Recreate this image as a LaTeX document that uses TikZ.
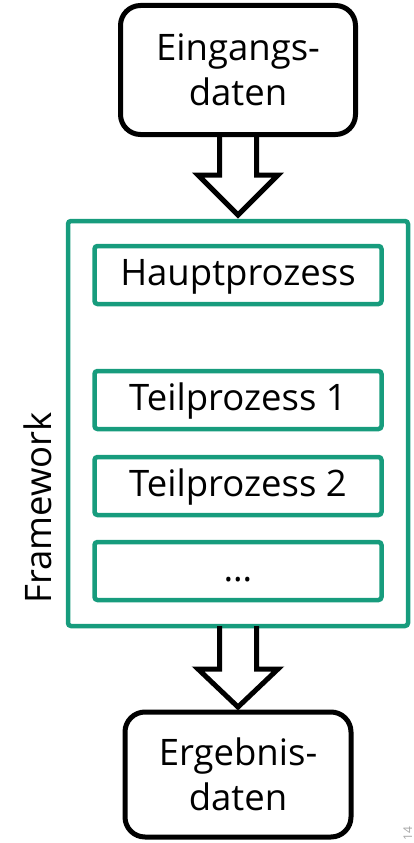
\documentclass[tikz,border=0pt]{standalone}
\usepackage{fontspec}
\setmainfont{Open Sans}
\usepackage{xcolor}
\usetikzlibrary{positioning,calc}
\definecolor{fhgreen}{RGB}{23,156,125}

\begin{document}
\begin{tikzpicture}[x=1pt, y=-1pt,
		databox/.style={draw, line width=5pt, rounded corners=20pt, align=center, inner sep=0pt, outer sep=0pt, font=\fontsize{36.5}{45}\selectfont},
		stepbox/.style={draw=fhgreen, line width=4.5pt, rounded corners=3pt, minimum width=287pt, minimum height=58pt, inner sep=0pt, outer sep=0pt, text height=26pt, text depth=6pt, font=\fontsize{36.5}{45}\selectfont},
		hollowarrow/.style={draw, line width=5pt, line join=miter}]
			\useasboundingbox (0,0) rectangle (414,843);
			\node [databox, minimum width=235pt, minimum height=129pt] (eingang) at (238,70) {Eingangs-\\daten};
			\node [draw=fhgreen, line width=4.5pt, rounded corners=3pt, minimum width=340pt, minimum height=405pt, outer sep=0pt] (framework) at (238,423.5) {};
			\node [rotate=90, font=\fontsize{36.5}{45}\selectfont] (fwlabel) at (38,508) {Framework};
			\node [stepbox] (haupt) at (238,275) {Hauptprozess};
			\node [stepbox] (teil1) at (238,400) {Teilprozess 1};
			\node [stepbox] (teil2) at (238,486) {Teilprozess 2};
			\node [stepbox] (weitere) at (238,571) {…};
			\node [databox, minimum width=226pt, minimum height=125pt] (ergebnis) at (238,774.5) {Ergebnis-\\daten};
			\node [rotate=90, anchor=base west, inner sep=0pt, text=gray!70, font=\fontsize{12}{12}\selectfont] (seite) at (412,841) {14};
			% input -> framework
			\draw [hollowarrow] ([xshift=-18.5pt]eingang.south) -- ([xshift=-18.5pt,yshift=46pt]framework.north) -- ([xshift=-40pt,yshift=46pt]framework.north) -- ([yshift=6pt]framework.north) -- ([xshift=40pt,yshift=46pt]framework.north) -- ([xshift=18.5pt,yshift=46pt]framework.north) -- ([xshift=18.5pt]eingang.south);
			% framework -> output
			\draw [hollowarrow] ([xshift=-18.5pt]framework.south) -- ([xshift=-18.5pt,yshift=43pt]ergebnis.north) -- ([xshift=-40pt,yshift=43pt]ergebnis.north) -- ([yshift=5pt]ergebnis.north) -- ([xshift=40pt,yshift=43pt]ergebnis.north) -- ([xshift=18.5pt,yshift=43pt]ergebnis.north) -- ([xshift=18.5pt]framework.south);
		\end{tikzpicture}
\end{document}
